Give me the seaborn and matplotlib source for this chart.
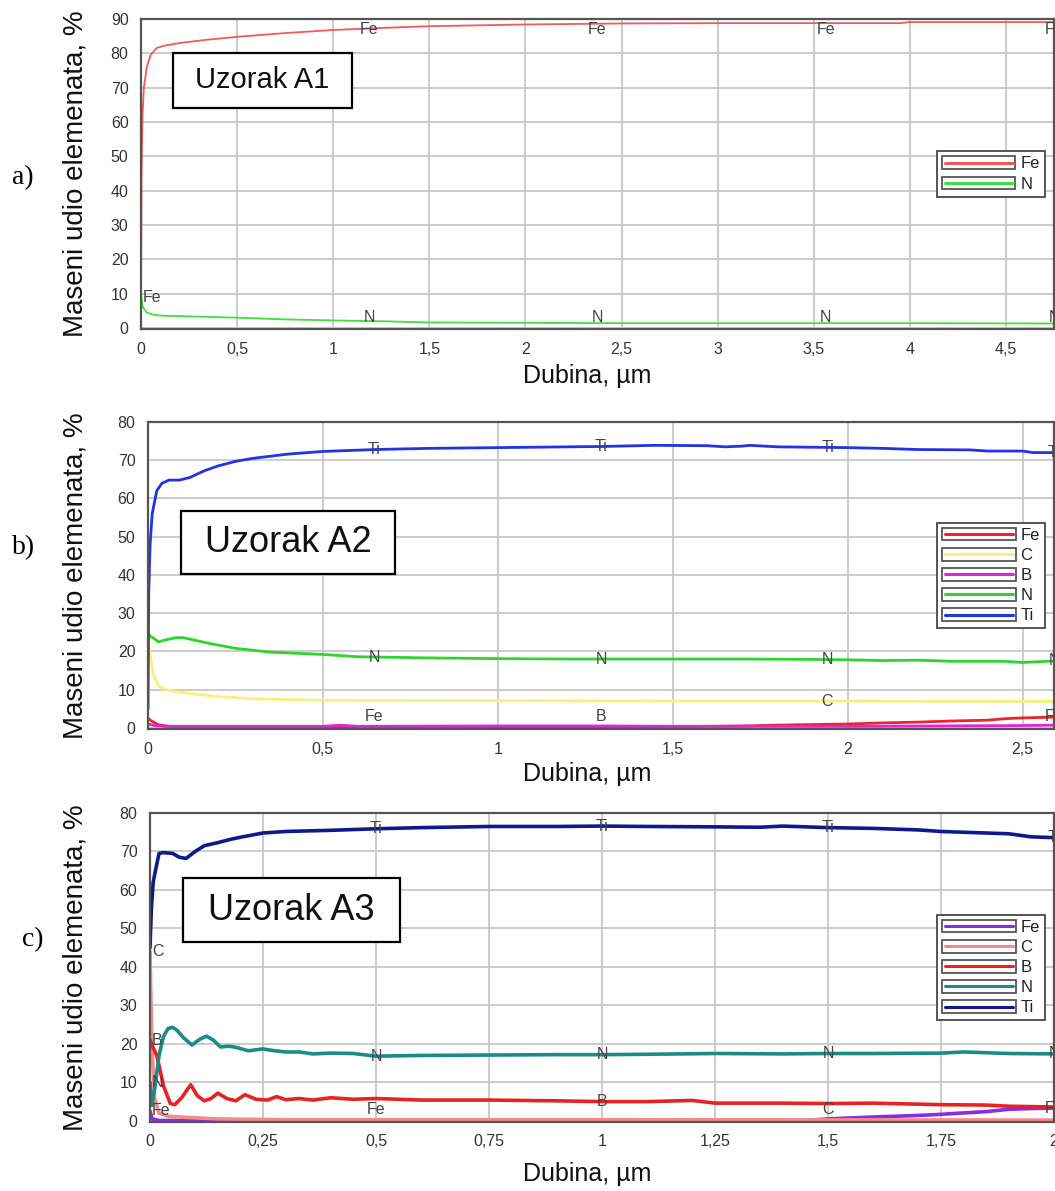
import numpy as np
import pandas as pd
import matplotlib
matplotlib.use('Agg')
import matplotlib.pyplot as plt
import seaborn as sns
from matplotlib.patches import Rectangle
from matplotlib.lines import Line2D
from matplotlib.legend_handler import HandlerBase

# ---- data (depth in um, mass fraction in %) ----
# panel a) Uzorak A1
a_fe_x = [0, 0.003, 0.008, 0.015, 0.03, 0.05, 0.08, 0.12, 0.2, 0.35, 0.5, 0.75, 1.0, 1.25, 1.5, 2.0, 2.5, 3.0, 3.5, 3.95, 4.0, 4.5, 4.75]
a_fe_y = [9, 45, 62, 70, 76, 79.5, 81.5, 82.2, 83, 84, 84.8, 85.9, 86.8, 87.4, 87.9, 88.4, 88.7, 88.8, 88.8, 88.8, 89.1, 89.1, 89.1]
a_n_x = [0, 0.01, 0.03, 0.06, 0.1, 0.3, 0.5, 0.75, 1.0, 1.3, 1.5, 2.0, 2.5, 3.0, 3.5, 4.0, 4.75]
a_n_y = [10, 6, 4.5, 3.9, 3.6, 3.3, 3.0, 2.5, 2.2, 1.9, 1.6, 1.5, 1.4, 1.4, 1.4, 1.4, 1.3]

# panel b) Uzorak A2
b_fe_x = [0, 0.01, 0.03, 0.06, 0.1, 0.5, 1.0, 1.5, 1.7, 1.85, 2.0, 2.1, 2.2, 2.3, 2.4, 2.45, 2.5, 2.59]
b_fe_y = [2.5, 1.8, 0.8, 0.4, 0.3, 0.3, 0.3, 0.3, 0.5, 0.8, 1.0, 1.3, 1.5, 1.8, 2.0, 2.4, 2.6, 2.8]
b_c_x = [0, 0.005, 0.015, 0.03, 0.05, 0.1, 0.2, 0.3, 0.5, 1.0, 1.5, 2.0, 2.59]
b_c_y = [24, 20, 14, 11, 10, 9.2, 8.2, 7.6, 7.2, 7.1, 7.0, 7.0, 6.9]
b_b_x = [0, 0.02, 0.05, 0.5, 0.55, 0.6, 1.0, 1.3, 1.5, 2.0, 2.5, 2.59]
b_b_y = [1.0, 0.6, 0.4, 0.4, 0.7, 0.4, 0.5, 0.5, 0.4, 0.4, 0.6, 0.7]
b_n_x = [0, 0.005, 0.015, 0.03, 0.05, 0.08, 0.1, 0.13, 0.18, 0.25, 0.35, 0.45, 0.5, 0.6, 0.8, 1.0, 1.2, 1.5, 1.7, 1.9, 2.0, 2.1, 2.2, 2.3, 2.45, 2.5, 2.59]
b_n_y = [25, 24, 23.5, 22.5, 23, 23.6, 23.6, 23, 22, 20.8, 19.8, 19.4, 19.2, 18.6, 18.3, 18.1, 18.0, 18.0, 18.0, 17.9, 17.8, 17.6, 17.7, 17.4, 17.4, 17.1, 17.5]
b_ti_x = [0, 0.002, 0.006, 0.012, 0.025, 0.04, 0.06, 0.09, 0.12, 0.16, 0.2, 0.25, 0.3, 0.4, 0.5, 0.65, 0.8, 1.0, 1.2, 1.3, 1.45, 1.6, 1.65, 1.7, 1.72, 1.8, 2.0, 2.1, 2.2, 2.35, 2.4, 2.5, 2.53, 2.59]
b_ti_y = [5, 35, 48, 56, 62, 64, 64.8, 64.8, 65.5, 67.2, 68.5, 69.7, 70.5, 71.6, 72.3, 72.8, 73.1, 73.3, 73.5, 73.6, 73.9, 73.8, 73.5, 73.7, 73.9, 73.5, 73.3, 73.1, 72.8, 72.7, 72.4, 72.4, 72.0, 72.0]

# panel c) Uzorak A3
c_fe_x = [0, 0.005, 0.02, 1.45, 1.5, 1.6, 1.7, 1.75, 1.85, 1.9, 1.95, 2.0]
c_fe_y = [2.5, 0.5, 0.1, 0.1, 0.5, 1.0, 1.4, 1.7, 2.4, 3.0, 3.2, 3.3]
c_c_x = [0, 0.004, 0.01, 0.02, 0.04, 0.08, 0.15, 0.3, 1.0, 2.0]
c_c_y = [44, 20, 6, 2, 1.2, 0.9, 0.5, 0.3, 0.3, 0.2]
c_b_x = [0, 0.005, 0.015, 0.03, 0.045, 0.055, 0.07, 0.09, 0.105, 0.12, 0.135, 0.15, 0.17, 0.19, 0.21, 0.235, 0.26, 0.28, 0.3, 0.33, 0.36, 0.4, 0.45, 0.5, 0.6, 0.75, 0.9, 1.0, 1.1, 1.2, 1.25, 1.4, 1.5, 1.6, 1.75, 1.85, 1.9, 2.0]
c_b_y = [21, 19.5, 17, 9, 4.5, 4.2, 6, 9.4, 6.5, 5.2, 5.8, 7.2, 5.8, 5.2, 6.8, 5.6, 5.4, 6.3, 5.5, 5.8, 5.4, 6.0, 5.6, 5.8, 5.4, 5.4, 5.2, 5.0, 5.0, 5.3, 4.6, 4.6, 4.5, 4.6, 4.2, 4.1, 3.8, 3.6]
c_n_x = [0, 0.004, 0.01, 0.02, 0.03, 0.04, 0.05, 0.06, 0.075, 0.093, 0.11, 0.125, 0.14, 0.156, 0.175, 0.19, 0.218, 0.25, 0.27, 0.3, 0.33, 0.36, 0.4, 0.45, 0.5, 0.6, 0.75, 0.9, 1.0, 1.1, 1.25, 1.4, 1.5, 1.6, 1.75, 1.8, 1.9, 2.0]
c_n_y = [10, 4, 8, 17, 22, 24, 24.3, 23.5, 21.5, 19.7, 21.2, 22, 21, 19.2, 19.4, 19.1, 18.2, 18.7, 18.3, 17.9, 17.9, 17.4, 17.6, 17.5, 16.8, 17.0, 17.1, 17.2, 17.2, 17.3, 17.5, 17.4, 17.5, 17.5, 17.6, 17.9, 17.5, 17.4]
c_ti_x = [0, 0.003, 0.007, 0.012, 0.02, 0.03, 0.05, 0.065, 0.08, 0.1, 0.12, 0.15, 0.18, 0.2, 0.25, 0.3, 0.4, 0.5, 0.6, 0.75, 0.9, 1.0, 1.1, 1.25, 1.35, 1.4, 1.5, 1.6, 1.7, 1.75, 1.8, 1.9, 1.95, 2.0]
c_ti_y = [45, 55, 62, 65, 69.5, 69.7, 69.5, 68.5, 68.2, 70, 71.5, 72.3, 73.2, 73.7, 74.8, 75.2, 75.5, 75.9, 76.2, 76.5, 76.5, 76.6, 76.5, 76.4, 76.3, 76.6, 76.2, 76.0, 75.6, 75.2, 75.0, 74.6, 73.8, 73.6]

a_xticks = [0, 0.5, 1, 1.5, 2, 2.5, 3, 3.5, 4, 4.5]
b_xticks = [0, 0.5, 1, 1.5, 2, 2.5]
c_xticks = [0, 0.25, 0.5, 0.75, 1, 1.25, 1.5, 1.75, 2]
a_yticks = list(range(0, 91, 10))
bc_yticks = list(range(0, 81, 10))

# which element names are written on the curves at 1/4, 2/4, 3/4 and 4/4 of the depth
a_marks = [['Fe', 'N'], ['Fe', 'N'], ['Fe', 'N'], ['Fe', 'N']]
bc_marks = [['Ti', 'N', 'Fe'], ['Ti', 'N', 'B'], ['Ti', 'N', 'C'], ['Ti', 'N', 'Fe']]

panels = [
    dict(tag='a)', title='Uzorak A1',
         series=[('Fe', a_fe_x, a_fe_y, '#f25a5a'), ('N', a_n_x, a_n_y, '#3fe03f')],
         lw=1.3, xmax=4.75, ymax=90, xticks=a_xticks, yticks=a_yticks, start=['Fe'],
         marks=a_marks,
         rect=[141, 19, 1054, 329], box=[173, 53, 352, 108], title_fs=21,
         tagpos=(12, 178), xlab_y=376),
    dict(tag='b)', title='Uzorak A2',
         series=[('Fe', b_fe_x, b_fe_y, '#e8262c'), ('C', b_c_x, b_c_y, '#f7f07c'),
                 ('B', b_b_x, b_b_y, '#e024d8'), ('N', b_n_x, b_n_y, '#2fd52f'),
                 ('Ti', b_ti_x, b_ti_y, '#2233e6')],
         lw=2.0, xmax=2.59, ymax=80, xticks=b_xticks, yticks=bc_yticks, start=[],
         marks=bc_marks,
         rect=[148, 422, 1054, 729], box=[181, 511, 395, 574], title_fs=26,
         tagpos=(12, 548), xlab_y=774),
    dict(tag='c)', title='Uzorak A3',
         series=[('Fe', c_fe_x, c_fe_y, '#8a2be8'), ('C', c_c_x, c_c_y, '#f58a8a'),
                 ('B', c_b_x, c_b_y, '#e82222'), ('N', c_n_x, c_n_y, '#1b8c84'),
                 ('Ti', c_ti_x, c_ti_y, '#0c1a8c')],
         lw=2.6, xmax=2.0, ymax=80, xticks=c_xticks, yticks=bc_yticks, start=['C', 'B', 'N', 'Fe'],
         marks=bc_marks,
         rect=[150, 813, 1054, 1122], box=[183, 878, 400, 942], title_fs=26,
         tagpos=(22, 940), xlab_y=1174),
]

W, H = 1055, 1191


class BoxedLine(HandlerBase):
    def create_artists(self, legend, orig_handle, xdescent, ydescent, width, height, fontsize, trans):
        box = Rectangle((-xdescent, -ydescent), width, height, facecolor='white',
                        edgecolor='#555555', lw=1.3, transform=trans)
        line = Line2D([-xdescent + 2, -xdescent + width - 2], [-ydescent + height / 2] * 2,
                      color=orig_handle.get_color(), lw=2.2, transform=trans)
        return [box, line]


def fmt(v):
    return f"{v:g}".replace('.', ',')


sns.set_theme(style='whitegrid')
plt.rcParams['font.family'] = ['Liberation Sans', 'DejaVu Sans']

fig = plt.figure(figsize=(W / 100, H / 100), dpi=100)

for p in panels:
    l, t, r, b = p['rect']
    ax = fig.add_axes([l / W, 1 - b / H, (r - l) / W, (b - t) / H])

    rows = []
    for name, xs, ys, col in p['series']:
        rows += [(name, x, y) for x, y in zip(xs, ys)]
    df = pd.DataFrame(rows, columns=['el', 'x', 'y'])
    palette = {name: col for name, _, _, col in p['series']}
    order = [s[0] for s in p['series']]
    sns.lineplot(data=df, x='x', y='y', hue='el', hue_order=order, palette=palette,
                 estimator=None, sort=False, legend=False, linewidth=p['lw'], ax=ax)

    ax.set_xlim(0, p['xmax'])
    ax.set_ylim(-0.3, p['ymax'])
    ax.set_xticks(p['xticks'])
    ax.set_xticklabels([fmt(v) for v in p['xticks']])
    ax.set_yticks(p['yticks'])
    ax.grid(True, color='#c8c8c8', lw=1.3)
    ax.tick_params(length=0, pad=9, labelsize=11.5, labelcolor='#333333')
    for sp in ax.spines.values():
        sp.set_color('#555555')
        sp.set_linewidth(1.6)

    ax.set_xlabel('Dubina, µm', fontsize=18, color='#111111', va='center')
    ax.xaxis.set_label_coords((587 - l) / (r - l), (b - p['xlab_y']) / (b - t))
    ax.set_ylabel('Maseni udio elemenata, %', fontsize=20, color='#111111', va='center')
    ax.yaxis.set_label_coords((76 - l) / (r - l), 0.5)

    # element labels along the curves
    data = {name: (xs, ys) for name, xs, ys, _ in p['series']}
    for k, names in enumerate(p['marks'], start=1):
        xq = p['xmax'] * k / 4
        for name in names:
            xs, ys = data[name]
            yq = float(np.clip(np.interp(xq, xs, ys), 3, p['ymax'] - 3))
            ax.text(xq, yq, name, ha='center', va='center', fontsize=11.5,
                    color='#444444', clip_on=True, zorder=5)
    for name in p['start']:
        xs, ys = data[name]
        ax.text(0.002 * p['xmax'], max(ys[0], 2.6), name, ha='left', va='center',
                fontsize=11.5, color='#444444', clip_on=True, zorder=5)

    # sample name box
    bx0, by0, bx1, by1 = p['box']
    ax.add_patch(Rectangle(((bx0 - l) / (r - l), (b - by1) / (b - t)),
                           (bx1 - bx0) / (r - l), (by1 - by0) / (b - t),
                           transform=ax.transAxes, facecolor='white',
                           edgecolor='black', lw=1.6, zorder=6))
    ax.text(((bx0 + bx1) / 2 - l) / (r - l), (b - (by0 + by1) / 2) / (b - t), p['title'],
            transform=ax.transAxes, ha='center', va='center', fontsize=p['title_fs'],
            color='#111111', zorder=7)

    handles = [Line2D([], [], color=col) for _, _, _, col in p['series']]
    leg = ax.legend(handles, order, loc='center right', bbox_to_anchor=(0.99, 0.5),
                    handler_map={Line2D: BoxedLine()}, fontsize=12, handlelength=4.4,
                    handleheight=0.8, labelspacing=0.3, handletextpad=0.3,
                    borderpad=0.3, borderaxespad=0, frameon=True, fancybox=False,
                    edgecolor='#555555', framealpha=1)
    leg.get_frame().set_linewidth(1.4)
    for txt in leg.get_texts():
        txt.set_color('#222222')
    leg.set_zorder(8)

    fig.text(p['tagpos'][0] / W, 1 - p['tagpos'][1] / H, p['tag'], ha='left', va='center',
             fontsize=20, family='Liberation Serif', color='black')

fig.savefig('out.png', dpi=100)
